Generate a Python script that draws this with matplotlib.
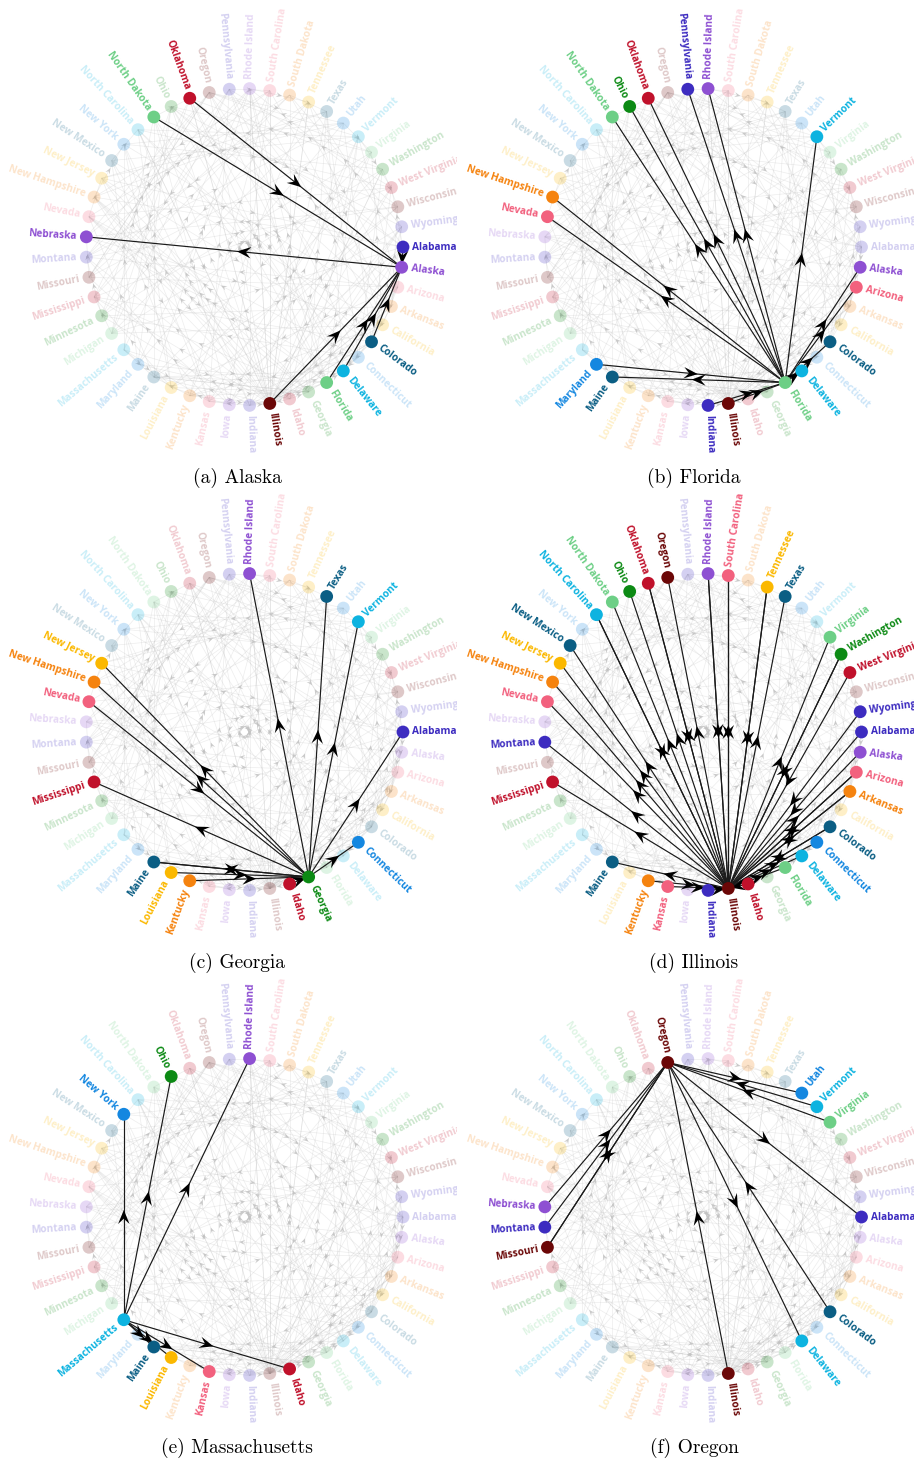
import numpy as np
import matplotlib
matplotlib.use("Agg")
import matplotlib.pyplot as plt
from matplotlib.collections import LineCollection, PolyCollection

# ---------------- data ----------------
states = ["Alabama", "Alaska", "Arizona", "Arkansas", "California", "Colorado",
          "Connecticut", "Delaware", "Florida", "Georgia", "Idaho", "Illinois",
          "Indiana", "Iowa", "Kansas", "Kentucky", "Louisiana", "Maine", "Maryland",
          "Massachusetts", "Michigan", "Minnesota", "Mississippi", "Missouri",
          "Montana", "Nebraska", "Nevada", "New Hampshire", "New Jersey",
          "New Mexico", "New York", "North Carolina", "North Dakota", "Ohio",
          "Oklahoma", "Oregon", "Pennsylvania", "Rhode Island", "South Carolina",
          "South Dakota", "Tennessee", "Texas", "Utah", "Vermont", "Virginia",
          "Washington", "West Virginia", "Wisconsin", "Wyoming"]

palette = ["#3d2cc0", "#8e50d2", "#f2617e", "#f5830f", "#fbb800", "#0b5e84",
           "#1487e0", "#0db3e0", "#6dcf86", "#0c8a14", "#c0112b", "#6b0707"]

panel_focus = ["Alaska", "Florida", "Georgia", "Illinois", "Massachusetts", "Oregon"]
panel_letters = ["a", "b", "c", "d", "e", "f"]

# out-neighbours (focus -> x) and in-neighbours (x -> focus) of each focus state
alaska_out = ["Nebraska"]
alaska_in = ["Oklahoma", "North Dakota", "Alabama", "Illinois", "Florida",
             "Delaware", "Colorado"]
florida_out = ["North Dakota", "Ohio", "Oklahoma", "Pennsylvania", "Rhode Island",
               "Vermont", "New Hampshire", "Nevada", "Maine", "Alaska", "Arizona",
               "Colorado", "Delaware"]
florida_in = ["Maryland", "Indiana", "Illinois"]
georgia_out = ["Rhode Island", "Texas", "Vermont", "Alabama", "Connecticut",
               "New Jersey", "New Hampshire", "Mississippi", "Maine"]
georgia_in = ["Nevada", "Maine", "Louisiana", "Kentucky", "Idaho"]
illinois_out = ["North Carolina", "North Dakota", "Ohio", "Oklahoma", "Oregon",
                "Rhode Island", "South Carolina", "Tennessee", "Texas",
                "New Mexico", "New Jersey", "New Hampshire", "Nevada", "Montana",
                "Mississippi", "Maine", "Virginia", "Washington", "Alaska",
                "Arizona", "Arkansas", "Colorado", "Connecticut", "Delaware",
                "Florida"]
illinois_in = ["North Carolina", "Oklahoma", "Rhode Island", "South Carolina",
               "Tennessee", "Kentucky", "Kansas", "Indiana", "Washington",
               "West Virginia", "Wyoming", "Alabama", "Arizona", "Arkansas",
               "Colorado", "Idaho"]
massachusetts_out = ["New York", "Ohio", "Rhode Island", "Maine", "Louisiana",
                     "Kansas", "Idaho"]
massachusetts_in = []
oregon_out = ["Utah", "Alabama", "Delaware", "Missouri"]
oregon_in = ["Vermont", "Virginia", "Colorado", "Illinois", "Nebraska", "Montana",
             "Missouri"]

panel_out = [alaska_out, florida_out, georgia_out, illinois_out,
             massachusetts_out, oregon_out]
panel_in = [alaska_in, florida_in, georgia_in, illinois_in,
            massachusetts_in, oregon_in]

# remaining (faint) edges of the whole network, "source-target" by state index
other_edges = (
    "0-3 0-14 0-27 0-40 0-46 2-6 2-16 2-24 2-33 2-43 3-10 3-21 3-30 3-38 3-47 "
    "4-12 4-20 4-29 4-37 4-44 5-13 5-22 5-31 5-42 5-48 6-15 6-26 6-36 6-45 "
    "7-17 7-25 7-34 7-41 10-18 10-27 10-39 10-48 12-21 12-30 12-43 13-23 13-32 "
    "13-46 14-24 14-36 14-44 15-28 15-40 15-47 16-22 16-31 16-45 17-26 17-37 "
    "17-48 18-29 18-38 18-42 20-32 20-41 20-0 21-33 21-44 22-34 22-46 23-36 "
    "23-43 23-2 24-37 24-47 25-38 25-4 26-39 26-10 27-41 27-13 28-42 28-5 "
    "29-43 29-14 30-45 30-16 31-46 31-6 32-47 32-17 33-48 33-7 34-0 34-20 "
    "36-3 36-21 37-12 37-22 38-15 38-27 39-2 39-23 40-4 40-24 41-6 41-28 "
    "42-10 42-30 43-13 43-31 44-17 44-33 45-20 45-34 46-5 46-36 47-25 47-37 "
    "48-12 48-39 0-2 3-5 6-7 12-14 15-17 20-22 23-25 26-28 29-31 32-34 36-38 "
    "39-41 42-44 45-47 48-3 2-4 5-7 13-16 21-24 27-30 37-40 43-46 4-15 14-30 "
    "22-39 24-42 16-47 13-38 20-36 31-12 40-21 46-26 28-0 33-3 6-21 18-33"
)

# ---------------- layout ----------------
W, H = 914, 1461
fig = plt.figure(figsize=(W / 100, H / 100), dpi=100)
fig.patch.set_facecolor("white")

n = len(states)
idx = {s: i for i, s in enumerate(states)}
theta = np.mod(-np.arange(n) * 360.0 / n, 360.0)
R = 158.5
px = R * np.cos(np.radians(theta))
py = R * np.sin(np.radians(theta))
colors = [palette[i % len(palette)] for i in range(n)]

# full network edge list
all_edges = set()
for k, f in enumerate(panel_focus):
    for s in panel_out[k]:
        all_edges.add((idx[f], idx[s]))
    for s in panel_in[k]:
        all_edges.add((idx[s], idx[f]))
for tok in other_edges.split():
    a, b = tok.split("-")
    all_edges.add((int(a), int(b)))
all_edges = sorted(all_edges)


def arrow_polys(edges, L, Wd, notch):
    polys = []
    for a, b in edges:
        x0, y0, x1, y1 = px[a], py[a], px[b], py[b]
        d = np.hypot(x1 - x0, y1 - y0)
        ux, uy = (x1 - x0) / d, (y1 - y0) / d
        vx, vy = -uy, ux
        mx, my = (x0 + x1) / 2, (y0 + y1) / 2
        tip = (mx + ux * L / 2, my + uy * L / 2)
        bl = (mx - ux * L / 2 + vx * Wd / 2, my - uy * L / 2 + vy * Wd / 2)
        nt = (mx - ux * L * notch, my - uy * L * notch)
        br = (mx - ux * L / 2 - vx * Wd / 2, my - uy * L / 2 - vy * Wd / 2)
        polys.append([tip, bl, nt, br])
    return polys


col_cx = [244.5, 703.0]
row_cy = [247.0, 732.0, 1217.0]
FADE = 0.22

for k, focus in enumerate(panel_focus):
    r, c = divmod(k, 2)
    cx, cy = col_cx[c], row_cy[r]
    left, right, top, bot = 244, 212, 240, 222
    ax = fig.add_axes([(cx - left) / W, 1 - (cy + bot) / H,
                       (left + right) / W, (top + bot) / H])
    ax.set_xlim(-left, right)
    ax.set_ylim(-bot, top)
    ax.axis("off")

    f = idx[focus]
    hi_edges = [(f, idx[s]) for s in panel_out[k]] + [(idx[s], f) for s in panel_in[k]]
    active = {f} | {idx[s] for s in panel_out[k]} | {idx[s] for s in panel_in[k]}

    # faint background network
    segs = [[(px[a], py[a]), (px[b], py[b])] for a, b in all_edges]
    ax.add_collection(LineCollection(segs, colors="#b8b8b8", linewidths=0.5,
                                     alpha=0.25, zorder=1))
    ax.add_collection(PolyCollection(arrow_polys(all_edges, 6, 5, 0.1),
                                     facecolors="#c2c2c2", edgecolors="none",
                                     alpha=0.85, zorder=1.5))

    # highlighted edges
    hsegs = [[(px[a], py[a]), (px[b], py[b])] for a, b in hi_edges]
    ax.add_collection(LineCollection(hsegs, colors="#1a1a1a", linewidths=0.85,
                                     zorder=3))
    ax.add_collection(PolyCollection(arrow_polys(hi_edges, 14, 11.5, 0.12),
                                     facecolors="black", edgecolors="none",
                                     zorder=3.5))

    # nodes and labels
    for i in range(n):
        on = i in active
        a = 1.0 if on else FADE
        ax.scatter([px[i]], [py[i]], s=85, color=colors[i], alpha=a,
                   edgecolors="none", zorder=4 if on else 2)
        th = theta[i]
        lx = (R + 9.5) * np.cos(np.radians(th))
        ly = (R + 9.5) * np.sin(np.radians(th))
        if 90 < th < 270:
            rot, ha = th - 180, "right"
        else:
            rot, ha = th, "left"
        ax.text(lx, ly, states[i], rotation=rot, rotation_mode="anchor",
                ha=ha, va="center", fontsize=7.3, fontweight="bold",
                family="Open Sans", color=colors[i], alpha=a, zorder=5,
                clip_on=True)

    fig.text((237 + 457 * c) / W, 1 - (478 + 485 * r) / H,
             f"({panel_letters[k]}) {focus}", ha="center", va="center",
             fontsize=14, family="cmr10")

fig.savefig("out.png", dpi=100, facecolor="white")
